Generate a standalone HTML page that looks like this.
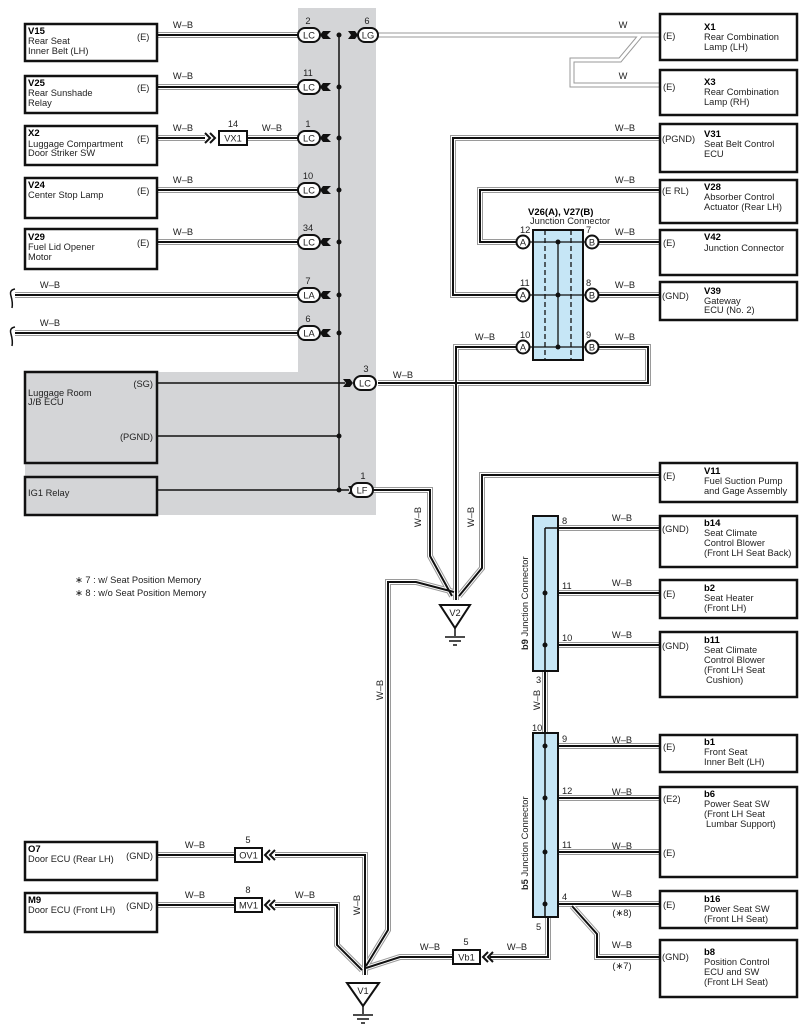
<!DOCTYPE html>
<html><head><meta charset="utf-8"><style>
html,body{margin:0;padding:0;background:#fff}
svg{display:block}
text{font-family:"Liberation Sans",sans-serif;font-size:9.3px;fill:#222}
.b{font-weight:bold;font-size:9.5px;fill:#000}
.box{fill:#fff;stroke:#111;stroke-width:2.5}
.gbox{fill:#d4d5d7;stroke:#111;stroke-width:2.5}
.cn{fill:#fff;stroke:#111;stroke-width:2}
.jc{fill:#c6e6f6;stroke:#111;stroke-width:2}
</style></head><body>
<svg width="802" height="1036" viewBox="0 0 802 1036" xmlns="http://www.w3.org/2000/svg">
<path d="M298 8 H376 V515 H25 V372 H298 Z" fill="#d4d5d7"/>

<defs>
<g id="wires" fill="none">
<path d="M157 35 H298"/>
<path d="M157 87 H298"/>
<path d="M157 138 H205"/>
<path d="M247 138 H298"/>
<path d="M157 190 H298"/>
<path d="M157 242 H298"/>
<path d="M15 295 H298"/>
<path d="M15 333 H298"/>
<path d="M378 383 H648 V347 H598"/>
<path d="M516 347 H456 V600"/>
<path d="M660 138 H453 V295 H516"/>
<path d="M660 190 H480 V242 H516"/>
<path d="M598 242 H660"/>
<path d="M598 295 H660"/>
<path d="M373 490 H430 V556 L452 596"/>
<path d="M660 475 H482 V568 L459 596"/>
<path d="M454 592 L416 582 H388 V930 L366 966"/>
<path d="M545 528 H660"/>
<path d="M545 593 H660"/>
<path d="M545 645 H660"/>
<path d="M545 670 V733"/>
<path d="M545 746 H660"/>
<path d="M545 798 H660"/>
<path d="M545 852 H660"/>
<path d="M545 904 H660"/>
<path d="M572 906 L597 934 V957 H660"/>
<path d="M548 917 V957 H490"/>
<path d="M453 957 H400 L366 968"/>
<path d="M157 855 H235"/>
<path d="M275 855 H365 V975"/>
<path d="M157 905 H235"/>
<path d="M275 905 H337 V945 L362 970"/>
</g>
</defs>
<use href="#wires" stroke="#9a9a9a" stroke-width="6"/>
<use href="#wires" stroke="#fff" stroke-width="4"/>
<use href="#wires" stroke="#111" stroke-width="2"/>

<g fill="none">
<path d="M378 35 H660 M640 36 L620 60 H572 V85 H660" stroke="#9a9a9a" stroke-width="5"/>
<path d="M378 35 H660 M640 36 L620 60 H572 V85 H660" stroke="#fff" stroke-width="3"/>
</g>

<g stroke="#111" stroke-width="1.5" fill="none">
<path d="M339 35 V490"/>
<path d="M157 383 H345"/>
<path d="M157 436 H339"/>
<path d="M157 490 H349"/>
</g>
<g fill="#111">
<circle cx="339" cy="35" r="2.5"/><circle cx="339" cy="87" r="2.5"/><circle cx="339" cy="138" r="2.5"/>
<circle cx="339" cy="190" r="2.5"/><circle cx="339" cy="242" r="2.5"/><circle cx="339" cy="295" r="2.5"/>
<circle cx="339" cy="333" r="2.5"/><circle cx="339" cy="436" r="2.5"/><circle cx="339" cy="490" r="2.5"/>
</g>
<g fill="#111">
<path d="M323 31 L331 31 L327 35 L331 39 L323 39 L320 35 Z"/>
<path d="M323 83 L331 83 L327 87 L331 91 L323 91 L320 87 Z"/>
<path d="M323 134 L331 134 L327 138 L331 142 L323 142 L320 138 Z"/>
<path d="M323 186 L331 186 L327 190 L331 194 L323 194 L320 190 Z"/>
<path d="M323 238 L331 238 L327 242 L331 246 L323 246 L320 242 Z"/>
<path d="M323 291 L331 291 L327 295 L331 299 L323 299 L320 295 Z"/>
<path d="M323 329 L331 329 L327 333 L331 337 L323 337 L320 333 Z"/>
<path d="M348 31 L355 31 L358 35 L355 39 L348 39 L351 35 Z"/>
<path d="M343 379 L350 379 L353 383 L350 387 L343 387 L346 383 Z"/>
<path d="M348 486 L355 486 L358 490 L355 494 L348 494 L351 490 Z"/>
</g>
<g>
<rect class="cn" x="298" y="28" width="22" height="14" rx="7"/><text x="309" y="38.5" text-anchor="middle">LC</text>
<rect class="cn" x="358" y="28" width="20" height="14" rx="7"/><text x="368" y="38.5" text-anchor="middle">LG</text>
<rect class="cn" x="298" y="80" width="22" height="14" rx="7"/><text x="309" y="90.5" text-anchor="middle">LC</text>
<rect class="cn" x="298" y="131" width="22" height="14" rx="7"/><text x="309" y="141.5" text-anchor="middle">LC</text>
<rect class="cn" x="298" y="183" width="22" height="14" rx="7"/><text x="309" y="193.5" text-anchor="middle">LC</text>
<rect class="cn" x="298" y="235" width="22" height="14" rx="7"/><text x="309" y="245.5" text-anchor="middle">LC</text>
<rect class="cn" x="298" y="288" width="22" height="14" rx="7"/><text x="309" y="298.5" text-anchor="middle">LA</text>
<rect class="cn" x="298" y="326" width="22" height="14" rx="7"/><text x="309" y="336.5" text-anchor="middle">LA</text>
<rect class="cn" x="354" y="376" width="22" height="14" rx="7"/><text x="365" y="386.5" text-anchor="middle">LC</text>
<rect class="cn" x="351" y="483" width="22" height="14" rx="7"/><text x="362" y="493.5" text-anchor="middle">LF</text>
</g>
<g text-anchor="middle">
<text x="308" y="24">2</text><text x="367" y="24">6</text><text x="308" y="76">11</text><text x="308" y="127">1</text>
<text x="308" y="179">10</text><text x="308" y="231">34</text><text x="308" y="284">7</text><text x="308" y="322">6</text>
<text x="366" y="372">3</text><text x="363" y="479">1</text>
</g>

<path d="M205 133 L210 138 L205 143 M210 133 L215 138 L210 143" stroke="#111" stroke-width="2" fill="none"/>
<rect x="219" y="131" width="28" height="14" fill="#fff" stroke="#111" stroke-width="2"/>
<text x="233" y="141.5" text-anchor="middle">VX1</text><text x="233" y="127" text-anchor="middle">14</text>

<rect class="box" x="25" y="24" width="132" height="37"/>
<text class="b" x="28" y="34">V15</text><text x="28" y="44">Rear Seat</text><text x="28" y="54">Inner Belt (LH)</text><text x="137" y="40">(E)</text>
<rect class="box" x="25" y="76" width="132" height="37"/>
<text class="b" x="28" y="86">V25</text><text x="28" y="96">Rear Sunshade</text><text x="28" y="106">Relay</text><text x="137" y="91">(E)</text>
<rect class="box" x="25" y="126" width="132" height="39"/>
<text class="b" x="28" y="136">X2</text><text x="28" y="147">Luggage Compartment</text><text x="28" y="156">Door Striker SW</text><text x="137" y="142">(E)</text>
<rect class="box" x="25" y="178" width="132" height="40"/>
<text class="b" x="28" y="188">V24</text><text x="28" y="198">Center Stop Lamp</text><text x="137" y="194">(E)</text>
<rect class="box" x="25" y="229" width="132" height="40"/>
<text class="b" x="28" y="240">V29</text><text x="28" y="250">Fuel Lid Opener</text><text x="28" y="260">Motor</text><text x="137" y="246">(E)</text>
<path d="M15 289 Q9 290 11 296 Q13 303 12 308 M15 327 Q9 328 11 334 Q13 341 12 346" stroke="#111" stroke-width="1.5" fill="none"/>
<rect class="gbox" x="25" y="372" width="132" height="91"/>
<text x="28" y="396">Luggage Room</text><text x="28" y="405">J/B ECU</text><text x="153" y="387" text-anchor="end">(SG)</text><text x="153" y="440" text-anchor="end">(PGND)</text>
<rect class="gbox" x="25" y="477" width="132" height="38"/>
<text x="28" y="496">IG1 Relay</text>

<g text-anchor="middle">
<text x="183" y="79">W–B</text><text x="183" y="131">W–B</text>
<text x="183" y="183">W–B</text><text x="183" y="235">W–B</text>
<text x="272" y="131">W–B</text><text x="183" y="28">W–B</text>
<text x="50" y="288">W–B</text><text x="50" y="326">W–B</text>
<text x="403" y="378">W–B</text><text x="485" y="340">W–B</text><text x="625" y="340">W–B</text>
<text x="625" y="131">W–B</text><text x="625" y="183">W–B</text><text x="625" y="235">W–B</text><text x="625" y="288">W–B</text>
<text x="623" y="28">W</text><text x="623" y="79">W</text>
<text x="622" y="521">W–B</text><text x="622" y="586">W–B</text><text x="622" y="638">W–B</text>
<text x="622" y="743">W–B</text><text x="622" y="795">W–B</text><text x="622" y="849">W–B</text><text x="622" y="897">W–B</text><text x="622" y="948">W–B</text>
<text x="622" y="916">(∗8)</text><text x="622" y="969">(∗7)</text>
<text x="195" y="848">W–B</text><text x="195" y="898">W–B</text><text x="305" y="898">W–B</text>
<text x="430" y="950">W–B</text><text x="517" y="950">W–B</text>
</g>
<g text-anchor="middle">
<text transform="translate(421,517) rotate(-90)">W–B</text>
<text transform="translate(474,517) rotate(-90)">W–B</text>
<text transform="translate(383,690) rotate(-90)">W–B</text>
<text transform="translate(360,905) rotate(-90)">W–B</text>
<text transform="translate(540,700) rotate(-90)">W–B</text>
</g>

<text class="b" x="528" y="215">V26(A), V27(B)</text><text x="530" y="224">Junction Connector</text>
<rect class="jc" x="533" y="230" width="50" height="130"/>
<g stroke="#111" stroke-width="1.3" fill="none">
<path d="M545 230 V360 M571 230 V360" stroke-dasharray="5,3"/>
<path d="M558 242 V347"/>
<path d="M530 242 H590 M530 295 H590 M530 347 H590"/>
</g>
<g fill="#111"><circle cx="558" cy="242" r="2.5"/><circle cx="558" cy="295" r="2.5"/><circle cx="558" cy="347" r="2.5"/></g>
<g>
<circle class="cn" cx="523" cy="242" r="6.5"/><text x="523" y="245.5" text-anchor="middle" font-size="8">A</text>
<circle class="cn" cx="523" cy="295" r="6.5"/><text x="523" y="298.5" text-anchor="middle" font-size="8">A</text>
<circle class="cn" cx="523" cy="347" r="6.5"/><text x="523" y="350.5" text-anchor="middle" font-size="8">A</text>
<circle class="cn" cx="592" cy="242" r="6.5"/><text x="592" y="245.5" text-anchor="middle" font-size="8">B</text>
<circle class="cn" cx="592" cy="295" r="6.5"/><text x="592" y="298.5" text-anchor="middle" font-size="8">B</text>
<circle class="cn" cx="592" cy="347" r="6.5"/><text x="592" y="350.5" text-anchor="middle" font-size="8">B</text>
</g>
<text x="520" y="233">12</text><text x="520" y="286">11</text><text x="520" y="338">10</text>
<text x="586" y="233">7</text><text x="586" y="286">8</text><text x="586" y="338">9</text>

<g>
<rect class="box" x="660" y="14" width="137" height="46"/><text x="663" y="39">(E)</text><text class="b" x="704" y="30">X1</text><text x="704" y="40">Rear Combination</text><text x="704" y="50">Lamp (LH)</text>
<rect class="box" x="660" y="70" width="137" height="45"/><text x="663" y="90">(E)</text><text class="b" x="704" y="85">X3</text><text x="704" y="95">Rear Combination</text><text x="704" y="105">Lamp (RH)</text>
<rect class="box" x="660" y="124" width="137" height="48"/><text x="662" y="142">(PGND)</text><text class="b" x="704" y="137">V31</text><text x="704" y="147">Seat Belt Control</text><text x="704" y="157">ECU</text>
<rect class="box" x="660" y="180" width="137" height="43"/><text x="662" y="194">(E RL)</text><text class="b" x="704" y="190">V28</text><text x="704" y="200">Absorber Control</text><text x="704" y="210">Actuator (Rear LH)</text>
<rect class="box" x="660" y="230" width="137" height="45"/><text x="663" y="246">(E)</text><text class="b" x="704" y="240">V42</text><text x="704" y="251">Junction Connector</text>
<rect class="box" x="660" y="282" width="137" height="38"/><text x="662" y="299">(GND)</text><text class="b" x="704" y="294">V39</text><text x="704" y="304">Gateway</text><text x="704" y="313">ECU (No. 2)</text>
<rect class="box" x="660" y="463" width="137" height="39"/><text x="663" y="479">(E)</text><text class="b" x="704" y="474">V11</text><text x="704" y="484">Fuel Suction Pump</text><text x="704" y="494">and Gage Assembly</text>
<rect class="box" x="660" y="516" width="137" height="51"/><text x="662" y="532">(GND)</text><text class="b" x="704" y="526">b14</text><text x="704" y="536">Seat Climate</text><text x="704" y="546">Control Blower</text><text x="704" y="556">(Front LH Seat Back)</text>
<rect class="box" x="660" y="580" width="137" height="38"/><text x="663" y="597">(E)</text><text class="b" x="704" y="591">b2</text><text x="704" y="601">Seat Heater</text><text x="704" y="611">(Front LH)</text>
<rect class="box" x="660" y="632" width="137" height="65"/><text x="662" y="649">(GND)</text><text class="b" x="704" y="643">b11</text><text x="704" y="653">Seat Climate</text><text x="704" y="663">Control Blower</text><text x="704" y="673">(Front LH Seat</text><text x="706" y="683">Cushion)</text>
<rect class="box" x="660" y="735" width="137" height="37"/><text x="663" y="750">(E)</text><text class="b" x="704" y="745">b1</text><text x="704" y="755">Front Seat</text><text x="704" y="765">Inner Belt (LH)</text>
<rect class="box" x="660" y="787" width="137" height="90"/><text x="663" y="802">(E2)</text><text x="663" y="856">(E)</text><text class="b" x="704" y="797">b6</text><text x="704" y="807">Power Seat SW</text><text x="704" y="817">(Front LH Seat</text><text x="706" y="827">Lumbar Support)</text>
<rect class="box" x="660" y="891" width="137" height="37"/><text x="663" y="908">(E)</text><text class="b" x="704" y="902">b16</text><text x="704" y="912">Power Seat SW</text><text x="704" y="922">(Front LH Seat)</text>
<rect class="box" x="660" y="940" width="137" height="57"/><text x="662" y="960">(GND)</text><text class="b" x="704" y="955">b8</text><text x="704" y="965">Position Control</text><text x="704" y="975">ECU and SW</text><text x="704" y="985">(Front LH Seat)</text>
</g>

<rect class="jc" x="533" y="516" width="25" height="155"/>
<rect class="jc" x="533" y="733" width="25" height="184"/>
<g stroke="#111" stroke-width="1.5" fill="none"><path d="M545 528 V671 M545 733 V917"/><path d="M545 528 H560"/></g>
<g fill="#111">
<circle cx="545" cy="593" r="2.5"/><circle cx="545" cy="645" r="2.5"/>
<circle cx="545" cy="746" r="2.5"/><circle cx="545" cy="798" r="2.5"/><circle cx="545" cy="852" r="2.5"/><circle cx="545" cy="904" r="2.5"/>
</g>
<text x="562" y="524">8</text><text x="562" y="589">11</text><text x="562" y="641">10</text>
<text x="562" y="742">9</text><text x="562" y="794">12</text><text x="562" y="848">11</text><text x="562" y="900">4</text>
<text x="536" y="683">3</text><text x="532" y="731">10</text><text x="536" y="930">5</text>
<text transform="translate(528,650) rotate(-90)"><tspan font-weight="bold">b9</tspan> Junction Connector</text>
<text transform="translate(528,890) rotate(-90)"><tspan font-weight="bold">b5</tspan> Junction Connector</text>

<rect x="235" y="848" width="27" height="14" fill="#fff" stroke="#111" stroke-width="2"/><text x="248.5" y="858.5" text-anchor="middle">OV1</text><text x="248" y="843" text-anchor="middle">5</text>
<rect x="235" y="898" width="27" height="14" fill="#fff" stroke="#111" stroke-width="2"/><text x="248.5" y="908.5" text-anchor="middle">MV1</text><text x="248" y="893" text-anchor="middle">8</text>
<rect x="453" y="950" width="27" height="14" fill="#fff" stroke="#111" stroke-width="2"/><text x="466.5" y="960.5" text-anchor="middle">Vb1</text><text x="466" y="945" text-anchor="middle">5</text>
<path d="M270 850 L265 855 L270 860 M275 850 L270 855 L275 860 M270 900 L265 905 L270 910 M275 900 L270 905 L275 910 M488 952 L483 957 L488 962 M493 952 L488 957 L493 962" stroke="#111" stroke-width="2" fill="none"/>

<path d="M440 605 H470 L455 628 Z" fill="#fff" stroke="#111" stroke-width="2"/><text x="455" y="616" text-anchor="middle">V2</text>
<path d="M455 628 V636 M445 637 H465 M449 641 H461 M453 645 H457" stroke="#111" stroke-width="1.5"/>
<path d="M347 983 H379 L363 1006 Z" fill="#fff" stroke="#111" stroke-width="2"/><text x="363" y="994" text-anchor="middle">V1</text>
<path d="M363 1006 V1014 M353 1015 H373 M357 1019 H369 M361 1023 H365" stroke="#111" stroke-width="1.5"/>

<rect class="box" x="25" y="842" width="132" height="38"/><text class="b" x="28" y="852">O7</text><text x="28" y="862">Door ECU (Rear LH)</text><text x="153" y="859" text-anchor="end">(GND)</text>
<rect class="box" x="25" y="893" width="132" height="39"/><text class="b" x="28" y="903">M9</text><text x="28" y="913">Door ECU (Front LH)</text><text x="153" y="909" text-anchor="end">(GND)</text>

<text x="75" y="583">∗ 7 : w/ Seat Position Memory</text>
<text x="75" y="596">∗ 8 : w/o Seat Position Memory</text>
</svg>
</body></html>
